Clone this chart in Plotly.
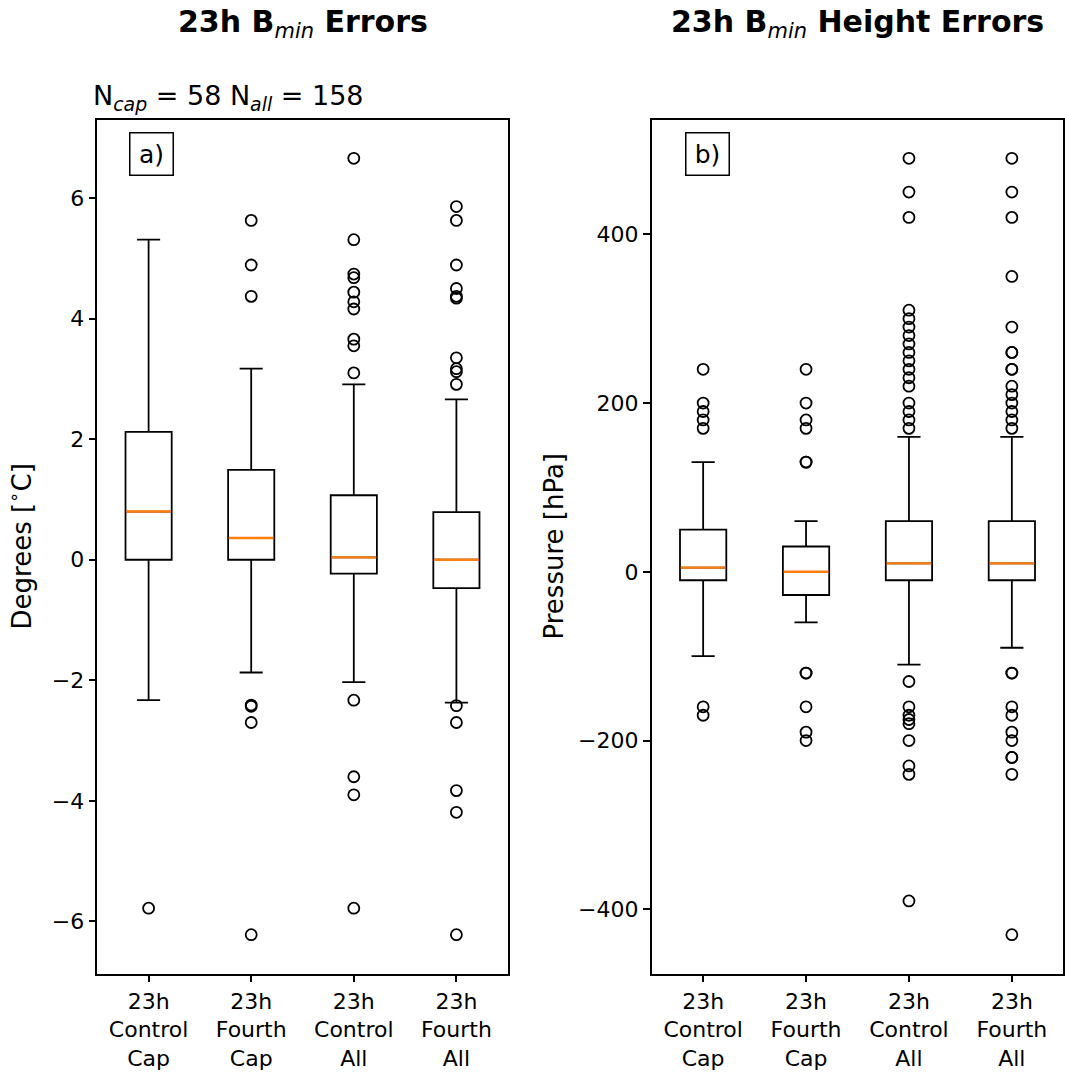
import plotly.graph_objects as go

# ---- data -------------------------------------------------------------
categories = ["23h<br>Control<br>Cap", "23h<br>Fourth<br>Cap",
              "23h<br>Control<br>All", "23h<br>Fourth<br>All"]
positions = [1, 2, 3, 4]

# Bmin temperature errors [deg C]
temp_q1 = [0.0, 0.0, -0.23, -0.47]
temp_median = [0.80, 0.36, 0.04, 0.0]
temp_q3 = [2.12, 1.49, 1.07, 0.79]
temp_low = [-2.33, -1.87, -2.03, -2.37]
temp_high = [5.31, 3.17, 2.91, 2.66]
temp_outliers = [
    [-5.78],
    [5.63, 4.89, 4.37, -2.41, -2.43, -2.70, -6.22],
    [6.66, 5.31, 4.74, 4.68, 4.44, 4.28, 4.16, 3.66, 3.55, 3.10,
     -2.33, -3.60, -3.90, -5.78],
    [5.86, 5.63, 4.89, 4.50, 4.37, 4.34, 3.35, 3.17, 3.12, 2.91,
     -2.42, -2.70, -3.83, -4.19, -6.22],
]

# Bmin height errors [hPa]
pres_q1 = [-10, -27.5, -10, -10]
pres_median = [5, 0, 10, 10]
pres_q3 = [50, 30, 60, 60]
pres_low = [-100, -60, -110, -90]
pres_high = [130, 60, 160, 160]
pres_outliers = [
    [240, 200, 190, 180, 170, -160, -170],
    [240, 200, 180, 170, 130, 130, -120, -120, -160, -190, -200],
    [490, 450, 420, 310, 300, 290, 280, 270, 260, 250, 240, 230, 220,
     200, 190, 180, 170, -130, -160, -170, -175, -180, -200, -230, -240,
     -390],
    [490, 450, 420, 350, 290, 260, 260, 240, 240, 220, 210, 200, 190,
     180, 170, -120, -120, -160, -170, -190, -200, -220, -220, -240,
     -430],
]

# ---- styling ----------------------------------------------------------
W, H = 1065, 1074
FONT = "DejaVu Sans"
BOX_W = 0.45
ORANGE = "#ff7f0e"


def px_x(p):
    return p / W


def px_y(p):
    return 1 - p / H


def data_range(lows, highs, outs):
    vals = list(lows) + list(highs)
    for o in outs:
        vals += list(o)
    lo, hi = min(vals), max(vals)
    pad = 0.05 * (hi - lo)
    return [lo - pad, hi + pad]


fig = go.Figure()


def add_panel(xa, ya, q1, med, q3, low, high, outs):
    fig.add_trace(go.Box(
        x=positions, q1=q1, median=med, q3=q3,
        lowerfence=low, upperfence=high,
        width=BOX_W, whiskerwidth=0.5, boxpoints=False,
        fillcolor="rgba(0,0,0,0)",
        line=dict(color="black", width=1.8),
        xaxis=xa, yaxis=ya, showlegend=False, hoverinfo="skip"))
    # orange median lines drawn over the box's own median
    mx, my = [], []
    for p, m in zip(positions, med):
        mx += [p - BOX_W / 2 + 0.006, p + BOX_W / 2 - 0.006, None]
        my += [m, m, None]
    fig.add_trace(go.Scatter(
        x=mx, y=my, mode="lines", line=dict(color=ORANGE, width=2.4),
        xaxis=xa, yaxis=ya, showlegend=False, hoverinfo="skip"))
    # fliers
    ox, oy = [], []
    for p, o in zip(positions, outs):
        ox += [p] * len(o)
        oy += list(o)
    fig.add_trace(go.Scatter(
        x=ox, y=oy, mode="markers",
        marker=dict(symbol="circle-open", size=11, color="black",
                    line=dict(width=1.8)),
        xaxis=xa, yaxis=ya, showlegend=False, hoverinfo="skip"))


add_panel("x", "y", temp_q1, temp_median, temp_q3, temp_low, temp_high,
          temp_outliers)
add_panel("x2", "y2", pres_q1, pres_median, pres_q3, pres_low, pres_high,
          pres_outliers)

axis_style = dict(
    showline=True, mirror=True, linecolor="black", linewidth=1.5,
    ticks="outside", ticklen=7, tickwidth=1.5, tickcolor="black",
    showgrid=False, zeroline=False,
    tickfont=dict(family=FONT, size=22, color="black"),
)

left_dom = [px_x(97.3), px_x(507.7)]
right_dom = [px_x(651.7), px_x(1063.3)]
y_dom = [px_y(973.5), px_y(119.5)]

fig.update_layout(
    width=W, height=H, margin=dict(l=0, r=0, t=0, b=0),
    paper_bgcolor="white", plot_bgcolor="white",
    font=dict(family=FONT, color="black"),
    xaxis=dict(domain=left_dom, range=[0.5, 4.5], anchor="y",
               tickvals=positions, ticktext=categories, **axis_style),
    yaxis=dict(domain=y_dom, anchor="x", dtick=2,
               range=data_range(temp_low, temp_high, temp_outliers),
               **axis_style),
    xaxis2=dict(domain=right_dom, range=[0.5, 4.5], anchor="y2",
                tickvals=positions, ticktext=categories, **axis_style),
    yaxis2=dict(domain=y_dom, anchor="x2", dtick=200,
                range=data_range(pres_low, pres_high, pres_outliers),
                **axis_style),
)

ann = []
# panel titles
ann.append(dict(text="<b>23h B</b><sub><i>min</i></sub><b> Errors</b>",
                x=(left_dom[0] + left_dom[1]) / 2, y=px_y(23),
                font=dict(size=30), xanchor="center", yanchor="middle"))
ann.append(dict(text="<b>23h B</b><sub><i>min</i></sub><b> Height Errors</b>",
                x=(right_dom[0] + right_dom[1]) / 2, y=px_y(23),
                font=dict(size=30), xanchor="center", yanchor="middle"))
# sample counts
ann.append(dict(text="N<sub><i>cap</i></sub> = 58 N<sub><i>all</i></sub> = 158",
                x=px_x(91), y=px_y(98), font=dict(size=27),
                xanchor="left", yanchor="middle"))
# panel letters
for lab, cx in (("a)", 151.4), ("b)", 707.5)):
    ann.append(dict(text=lab, x=px_x(cx), y=px_y(154.4), font=dict(size=25),
                    xanchor="center", yanchor="middle", width=42, height=41,
                    bordercolor="black", borderwidth=1.5, borderpad=0,
                    bgcolor="white"))
# y-axis labels
ann.append(dict(text="Degrees [<sup>∘</sup>C]", x=px_x(20), y=px_y(546.5),
                textangle=-90, font=dict(size=26),
                xanchor="center", yanchor="middle"))
ann.append(dict(text="Pressure [hPa]", x=px_x(553), y=px_y(546.5),
                textangle=-90, font=dict(size=26),
                xanchor="center", yanchor="middle"))

for a in ann:
    a.update(xref="paper", yref="paper", showarrow=False)
    a["font"] = dict(family=FONT, color="black", **a["font"])
fig.update_layout(annotations=ann)

fig.write_html("out.html")
